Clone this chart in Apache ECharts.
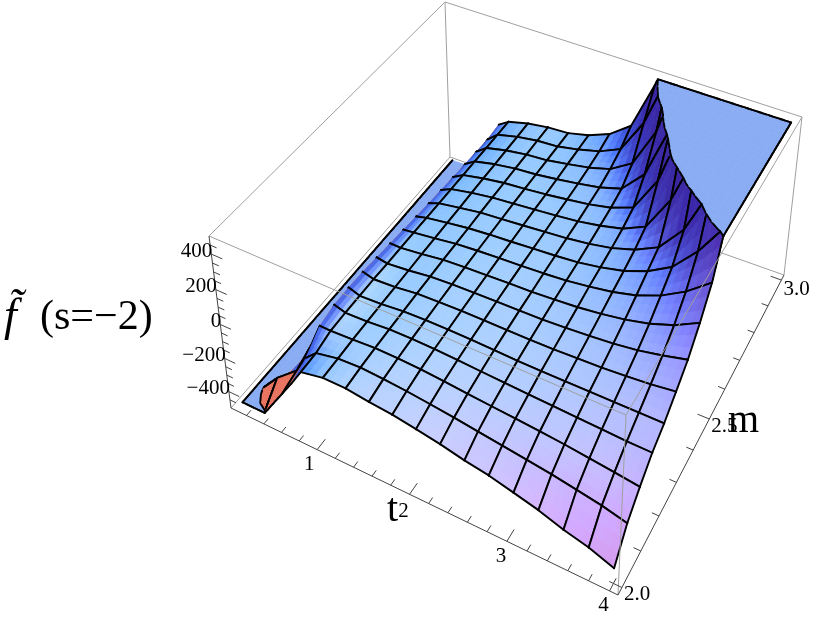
<!DOCTYPE html>
<html>
<head>
<meta charset="utf-8">
<title>f (s=-2)</title>
<style>html,body{margin:0;padding:0;background:#fff}#main{width:830px;height:618px}</style>
<script src="https://cdn.jsdelivr.net/npm/echarts@6/dist/echarts.min.js"></script>
</head>
<body>
<div id="main"></div>
<script>
// surface nodes, the one at 0.71 only shapes the ridge and carries no mesh line
var tNodes = [0.1, 0.344, 0.588, 0.71, 0.831, 1.075, 1.319, 1.563, 1.806, 2.05, 2.294, 2.538, 2.781, 3.025, 3.269, 3.513, 3.756, 4];
var tNoMesh = [3];
var mNodes = [2, 2.0625, 2.125, 2.1875, 2.25, 2.3125, 2.375, 2.4375, 2.5, 2.5625, 2.625, 2.6875, 2.75, 2.8125, 2.875, 2.9375, 3];

// f values, one row per m node
var zRow00 = [-520, -490, -306, -214, -117, -90, -90, -107, -119, -140, -163, -192, -214, -247, -281, -326, -360, -410];
var zRow01 = [-520, -380, -275, -170, -112, -86, -79, -86, -96, -110, -126, -144, -162, -180, -198, -222, -246, -280];
var zRow02 = [-520, -490, -230, -85, -86, -80, -72, -74, -79, -89, -101, -112, -122, -134, -146, -162, -178, -196];
var zRow03 = [-520, -490, -260, -62, -82, -78, -67, -66, -68, -74, -82, -89, -96, -102, -108, -114, -120, -122];
var zRow04 = [-520, -490, -260, -60, -82, -76, -64, -60, -60, -62, -66, -70, -72, -72, -72, -72, -72, -71];
var zRow05 = [-520, -490, -260, -64, -82, -75, -60, -55, -53, -53, -54, -54, -53, -48, -43, -34, -22, -4];
var zRow06 = [-520, -490, -260, -74, -85, -74, -58, -50, -47, -44, -43, -40, -34, -24, -12, 6, 34, 68];
var zRow07 = [-520, -490, -260, -84, -86, -72, -55, -47, -42, -37, -34, -26, -16, 0, 22, 54, 102, 172];
var zRow08 = [-520, -490, -260, -94, -87, -71, -54, -44, -37, -31, -24, -14, 4, 26, 60, 114, 192, 299];
var zRow09 = [-520, -490, -260, -105, -89, -70, -53, -42, -34, -25, -16, -4, 19, 50, 102, 180, 324, 516];
var zRow10 = [-520, -490, -260, -114, -91, -70, -50, -40, -30, -19, -7, 10, 36, 78, 144, 300, 580, 900];
var zRow11 = [-520, -490, -260, -121, -92, -68, -49, -38, -26, -13, 1, 24, 56, 120, 330, 660, 1000, 1300];
var zRow12 = [-520, -490, -260, -128, -93, -67, -48, -37, -24, -7, 12, 40, 90, 300, 680, 1000, 1300, 1600];
var zRow13 = [-520, -490, -260, -134, -94, -66, -47, -37, -20, 0, 24, 64, 200, 520, 900, 1200, 1500, 1800];
var zRow14 = [-520, -490, -260, -140, -95, -65, -46, -36, -14, 10, 48, 130, 370, 800, 1100, 1400, 1700, 1900];
var zRow15 = [-520, -490, -260, -146, -95, -64, -44, -36, -10, 24, 84, 290, 620, 1000, 1300, 1600, 1900, 2000];
var zRow16 = [-520, -490, -260, -135, -95, -62, -43, -36, -5, 47, 144, 440, 800, 1200, 1500, 1800, 2000, 2200];
var zRows = [zRow00, zRow01, zRow02, zRow03, zRow04, zRow05, zRow06, zRow07, zRow08, zRow09, zRow10, zRow11, zRow12, zRow13, zRow14, zRow15, zRow16];

// cells (column, row) showing the underside of the surface
var undersideCells = ['0,0', '1,0', '2,0'];

// axis ticks
var tTicks = [0.2, 0.4, 0.6, 0.8, 1, 1.2, 1.4, 1.6, 1.8, 2, 2.2, 2.4, 2.6, 2.8, 3, 3.2, 3.4, 3.6, 3.8, 4];
var tLabels = [1, 2, 3, 4];
var mTicks = [2, 2.1, 2.2, 2.3, 2.4, 2.5, 2.6, 2.7, 2.8, 2.9, 3];
var mLabels = ['2.0', '2.5', '3.0'];
var zTicks = [-450, -400, -350, -300, -250, -200, -150, -100, -50, 0, 50, 100, 150, 200, 250, 300, 350, 400, 450];
var zLabels = [400, 200, 0, -200, -400];

// plot box and clipping level
var tBox = [0.02, 4.08], mBox = [1.98, 3.02], zBox = [-500, 500], zClip = 480;
var lastCol = tNodes.length - 1, lastRow = mNodes.length - 1;

// screen position of the 8 box corners, indexed u + 2v + 4s
var corners = [[231, 408], [618, 595], [450, 157], [784, 275], [209, 236], [626, 415], [445, 2], [802, 117]];

function project(t, m, z) {
  var u = (t - tBox[0]) / (tBox[1] - tBox[0]);
  var v = (m - mBox[0]) / (mBox[1] - mBox[0]);
  var s = (z - zBox[0]) / (zBox[1] - zBox[0]);
  var x = 0, y = 0, d = 0;
  for (var k = 0; k < 8; k++) {
    var cu = k & 1, cv = (k >> 1) & 1, cs = (k >> 2) & 1;
    var b = (cu ? u : 1 - u) * (cv ? v : 1 - v) * (cs ? s : 1 - s);
    var w = 1 - 0.1 * cu + 0.2 * cv - 0.055 * cs;
    x += b * w * corners[k][0];
    y += b * w * corners[k][1];
    d += b * w;
  }
  return [x / d, y / d];
}

// lighting, close to the set up of the original plot
var viewT = [0.87, -0.42, 0.25], viewM = [0.38, 0.72, -0.58], viewZ = [0, 0.55, 0.83];
var lights = [[0.588, -0.196, 0.784], [0.514, 0.514, 0.685], [0.1, 0.6, 0.8]];
var ambient = [0.225, 0.145, 0.3];
var diffuse = [0.78, 0.8, 0.9];
var heightRatio = 0.4;
var flatFill = 'rgb(137,172,243)', backFill = '#e8735f';

function shade(nt, nm, nz) {
  var n = [0, 0, 0], len = 0, c = [0, 0, 0];
  for (var a = 0; a < 3; a++) {
    n[a] = nt * viewT[a] + nm * viewM[a] + nz * viewZ[a];
    len += n[a] * n[a];
  }
  len = Math.sqrt(len);
  for (var b = 0; b < 3; b++) {
    var dot = (n[0] * lights[b][0] + n[1] * lights[b][1] + n[2] * lights[b][2]) / len;
    c[b] = ambient[b] + diffuse[b] * Math.max(0, dot);
  }
  return c;
}

function nodeColor(i, j) {
  var i0 = Math.max(i - 1, 0), i1 = Math.min(i + 1, lastCol), j0 = Math.max(j - 1, 0), j1 = Math.min(j + 1, lastRow);
  var lim = function (z) { return Math.max(-zClip, Math.min(800, z)); };
  var dzt = (lim(zRows[j][i1]) - lim(zRows[j][i0])) / 1000 / ((tNodes[i1] - tNodes[i0]) / 4.06);
  var dzm = (lim(zRows[j1][i]) - lim(zRows[j0][i])) / 1000 / ((mNodes[j1] - mNodes[j0]) / 1.04);
  return shade(-heightRatio * dzt, -heightRatio * dzm, 1);
}

var nodeColors = zRows.map(function (row, j) { return row.map(function (z, i) { return nodeColor(i, j); }); });

function toCss(c) {
  return 'rgb(' + c.map(function (x) { return Math.round(255 * Math.min(1, x)); }).join(',') + ')';
}

// keep the part of a polygon on one side of a z level, vertex = [t, m, z, r, g, b]
function clipPoly(poly, level, side) {
  var out = [];
  for (var k = 0; k < poly.length; k++) {
    var p = poly[k], q = poly[(k + 1) % poly.length];
    var pin = side * (p[2] - level) >= 0, qin = side * (q[2] - level) >= 0;
    if (pin) out.push(p);
    if (pin !== qin) {
      var f = (level - p[2]) / (q[2] - p[2]);
      out.push(p.map(function (x, a) { return x + f * (q[a] - x); }));
    }
  }
  return out;
}

var subCells = 3;

function renderCell(params, api) {
  var i = api.value(0), j = api.value(1);
  var children = [];
  var isUnderside = undersideCells.indexOf(i + ',' + j) >= 0;
  var toPx = function (t, m, z) {
    return api.coord(project(t, m, z));
  };
  var vertex = function (a, b) {
    var fa = 1 - a, fb = 1 - b;
    var mix = function (f) { return fa * fb * f(i, j) + a * fb * f(i + 1, j) + fa * b * f(i, j + 1) + a * b * f(i + 1, j + 1); };
    return [
      tNodes[i] + a * (tNodes[i + 1] - tNodes[i]),
      mNodes[j] + b * (mNodes[j + 1] - mNodes[j]),
      mix(function (x, y) { return zRows[y][x]; }),
      mix(function (x, y) { return nodeColors[y][x][0]; }),
      mix(function (x, y) { return nodeColors[y][x][1]; }),
      mix(function (x, y) { return nodeColors[y][x][2]; })
    ];
  };
  var addPoly = function (poly, fill) {
    if (poly.length < 3) return;
    var pts = poly.map(function (v) { return toPx(v[0], v[1], v[2]); });
    var area = 0;
    pts.forEach(function (p, k) {
      var q = pts[(k + 1) % pts.length];
      area += p[0] * q[1] - q[0] * p[1];
    });
    var color = fill;
    if (!color) {
      if (area > 0 || isUnderside) {
        color = backFill;
      } else {
        var c = [0, 0, 0];
        poly.forEach(function (v) { c[0] += v[3]; c[1] += v[4]; c[2] += v[5]; });
        color = toCss(c.map(function (x) { return x / poly.length; }));
      }
    }
    children.push({ type: 'polygon', shape: { points: pts }, style: { fill: color, stroke: color, lineWidth: 0.7 }, silent: true });
  };
  var addLine = function (a, b) {
    var p = toPx(a[0], a[1], a[2]), q = toPx(b[0], b[1], b[2]);
    children.push({ type: 'line', shape: { x1: p[0], y1: p[1], x2: q[0], y2: q[1] }, style: { stroke: '#000', lineWidth: 1.9, lineCap: 'round' }, silent: true });
  };
  var flatten = function (poly, level) {
    return poly.map(function (v) { return [v[0], v[1], level, v[3], v[4], v[5]]; });
  };

  for (var a = 0; a < subCells; a++) {
    for (var b = 0; b < subCells; b++) {
      var poly = [
        vertex(a / subCells, b / subCells), vertex((a + 1) / subCells, b / subCells),
        vertex((a + 1) / subCells, (b + 1) / subCells), vertex(a / subCells, (b + 1) / subCells)
      ];
      addPoly(clipPoly(clipPoly(poly, zClip, -1), -zClip, 1), null);
      addPoly(flatten(clipPoly(poly, zClip, 1), zClip), flatFill);
      addPoly(flatten(clipPoly(poly, -zClip, -1), -zClip), flatFill);
      // edge of the clipped part
      [zClip, -zClip].forEach(function (level) {
        var cross = [];
        poly.forEach(function (p, k) {
          var q = poly[(k + 1) % 4];
          if ((p[2] - level) * (q[2] - level) < 0) {
            var f = (level - p[2]) / (q[2] - p[2]);
            cross.push([p[0] + f * (q[0] - p[0]), p[1] + f * (q[1] - p[1]), level]);
          }
        });
        if (cross.length === 2) addLine(cross[0], cross[1]);
      });
    }
  }

  // mesh lines round the cell, outer edges stay on the clip plane
  var meshEdge = function (a, b, border) {
    var inside = function (z) { return Math.abs(z) <= zClip; };
    if (inside(a[2]) && inside(b[2])) { addLine(a, b); return; }
    var n = 14, clamp = function (z) { return Math.max(-zClip, Math.min(zClip, z)); };
    for (var k = 0; k < n; k++) {
      var f0 = k / n, f1 = (k + 1) / n;
      var p = a.map(function (x, o) { return x + f0 * (b[o] - x); });
      var q = a.map(function (x, o) { return x + f1 * (b[o] - x); });
      if (border || (inside(p[2]) && inside(q[2]))) {
        addLine([p[0], p[1], clamp(p[2])], [q[0], q[1], clamp(q[2])]);
      }
    }
  };
  var n00 = [tNodes[i], mNodes[j], zRows[j][i]], n10 = [tNodes[i + 1], mNodes[j], zRows[j][i + 1]];
  var n01 = [tNodes[i], mNodes[j + 1], zRows[j + 1][i]], n11 = [tNodes[i + 1], mNodes[j + 1], zRows[j + 1][i + 1]];
  meshEdge(n00, n10, j === 0);
  // far edge of the wall behind the ridge has no line
  if (!(j === lastRow - 1 && i < 3)) meshEdge(n01, n11, j === lastRow - 1);
  if (tNoMesh.indexOf(i) < 0) meshEdge(n00, n01, i === 0);
  if (tNoMesh.indexOf(i + 1) < 0) meshEdge(n10, n11, i === lastCol - 1);

  return { type: 'group', children: children };
}

// far cells first: m from high to low, t from low to high
var cellData = [];
for (var j = lastRow - 1; j >= 0; j--) {
  for (var i = 0; i < lastCol; i++) cellData.push([i, j]);
}

function boxPoint(iu, iv, is) {
  return [tBox[iu], mBox[iv], zBox[is]];
}

var backLines = [
  [boxPoint(0, 1, 0), boxPoint(0, 0, 0)], [boxPoint(0, 1, 0), boxPoint(1, 1, 0)], [boxPoint(0, 1, 0), boxPoint(0, 1, 1)],
  [boxPoint(0, 1, 1), boxPoint(0, 0, 1)], [boxPoint(0, 1, 1), boxPoint(1, 1, 1)], [boxPoint(1, 1, 0), boxPoint(1, 1, 1)]
];
var frontLines = [
  [boxPoint(0, 0, 1), boxPoint(1, 0, 1)], [boxPoint(1, 0, 1), boxPoint(1, 1, 1)], [boxPoint(1, 0, 0), boxPoint(1, 0, 1)]
];
var axisLines = [
  [boxPoint(0, 0, 0), boxPoint(0, 0, 1)], [boxPoint(0, 0, 0), boxPoint(1, 0, 0)], [boxPoint(1, 0, 0), boxPoint(1, 1, 0)]
];
tTicks.forEach(function (t) {
  var len = t % 1 === 0 ? 0.034 : 0.018;
  axisLines.push([[t, mBox[0], zBox[0]], [t, mBox[0] + len, zBox[0]]]);
});
mTicks.forEach(function (m) {
  var len = Math.round(m * 10) % 5 === 0 ? 0.12 : 0.07;
  axisLines.push([[tBox[1], m, zBox[0]], [tBox[1] - len, m, zBox[0]]]);
});
zTicks.forEach(function (z) {
  var len = z % 200 === 0 ? 0.12 : 0.07;
  axisLines.push([[tBox[0], mBox[0], z], [tBox[0] + len, mBox[0], z]]);
});

function lineSeries(lines, color, z) {
  return {
    type: 'custom',
    coordinateSystem: 'cartesian2d',
    silent: true,
    z: z,
    clip: false,
    data: lines.map(function (l, idx) { return [idx, 0]; }),
    renderItem: function (params, api) {
      var l = lines[api.value(0)];
      var p = api.coord(project(l[0][0], l[0][1], l[0][2])), q = api.coord(project(l[1][0], l[1][1], l[1][2]));
      return { type: 'line', shape: { x1: p[0], y1: p[1], x2: q[0], y2: q[1] }, style: { stroke: color, lineWidth: 1 } };
    }
  };
}

var labelFont = '21px "Liberation Serif"';
var tickTexts = [];
tLabels.forEach(function (t) {
  tickTexts.push({ text: String(t), at: [t, mBox[0], zBox[0]], dx: t === 1 ? -8 : -6, dy: t === 2 ? 17 : 15, align: 'center' });
});
mLabels.forEach(function (m) {
  tickTexts.push({ text: m, at: [tBox[1], +m, zBox[0]], dx: 2, dy: m === '3.0' ? 9 : 7, align: 'left' });
});
zLabels.forEach(function (z) {
  tickTexts.push({ text: String(z).replace('-', '\u2212'), at: [tBox[0], mBox[0], z], dx: 1, dy: -3, align: 'right' });
});

var chart = echarts.init(document.getElementById('main'), null, { renderer: 'canvas' });
chart.setOption({
  animation: false,
  backgroundColor: '#fff',
  grid: { left: 0, right: 0, top: 0, bottom: 0 },
  xAxis: { type: 'value', min: 0, max: 830, show: false },
  yAxis: { type: 'value', min: 0, max: 618, inverse: true, show: false },
  graphic: [
    { type: 'text', left: 4, top: 295, z: 20, style: { text: 'f\u0303', font: 'italic 46px "Liberation Serif"', fill: '#000' } },
    { type: 'text', left: 40, top: 297, z: 20, style: { text: '(s=\u22122)', font: '42px "Liberation Serif"', fill: '#000' } },
    { type: 'text', left: 387, top: 490, z: 20, style: { text: 't', font: '40px "Liberation Serif"', fill: '#000' } },
    { type: 'text', left: 728, top: 401, z: 20, style: { text: 'm', font: '40px "Liberation Serif"', fill: '#000' } }
  ],
  series: [
    lineSeries(backLines, '#a0a0a0', 1),
    {
      type: 'custom',
      coordinateSystem: 'cartesian2d',
      silent: true,
      z: 2,
      clip: false,
      progressive: 0,
      data: cellData,
      renderItem: renderCell
    },
    lineSeries(frontLines, '#a0a0a0', 3),
    lineSeries(axisLines, '#444', 3),
    {
      type: 'custom',
      coordinateSystem: 'cartesian2d',
      silent: true,
      z: 4,
      clip: false,
      data: tickTexts.map(function (l, idx) { return [idx, 0]; }),
      renderItem: function (params, api) {
        var l = tickTexts[api.value(0)];
        var p = api.coord(project(l.at[0], l.at[1], l.at[2]));
        return {
          type: 'text',
          style: { text: l.text, x: p[0] + l.dx, y: p[1] + l.dy, font: labelFont, fill: '#000', align: l.align, verticalAlign: 'middle' }
        };
      }
    }
  ]
});
</script>
</body>
</html>
